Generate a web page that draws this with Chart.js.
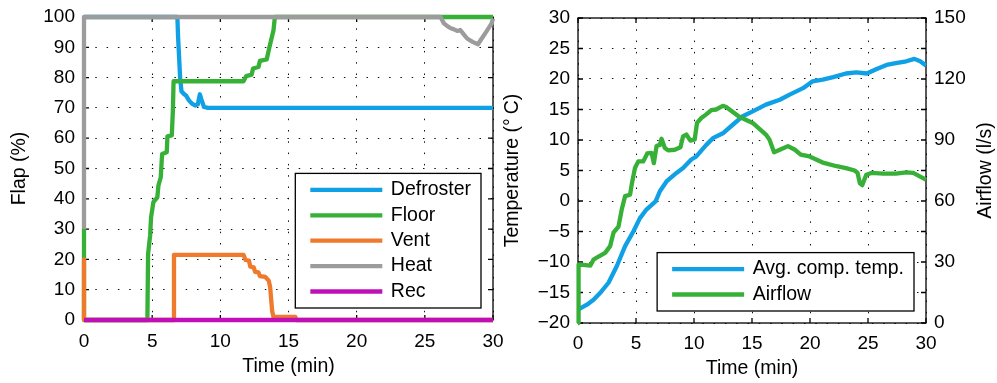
<!DOCTYPE html>
<html>
<head>
<meta charset="utf-8">
<script src="https://cdn.jsdelivr.net/npm/chart.js@4/dist/chart.umd.min.js"></script>
<style>
  html, body { margin: 0; padding: 0; background: #fff; }
  #wrap { position: relative; width: 997px; height: 383px; overflow: hidden; }
  canvas { position: absolute; top: 0; }
  #flap { left: 0; }
  #temp { left: 500px; }
</style>
</head>
<body>
<div id="wrap">
  <canvas id="flap" width="520" height="383"></canvas>
  <canvas id="temp" width="497" height="383"></canvas>
</div>
<script>
// ---------- Flap positions (%) against time (min) ----------
const defrosterTime = [0, 6.85, 6.9, 7.05, 7.15, 7.35, 7.5, 7.7, 7.9, 8.15, 8.35, 8.5, 8.6, 8.8, 9.1, 30];
const defrosterPct  = [100, 100, 93.5, 80, 75.5, 74.5, 74, 72.5, 71.5, 70.8, 71.2, 74.5, 73, 70.3, 70, 70];

const floorTime = [0, 0, 4.65, 4.7, 4.85, 4.92, 5.09, 5.38, 5.46, 5.63, 5.73, 6.07, 6.12, 6.44, 6.52, 6.57,
                   11.7, 11.9, 12.3, 12.4, 12.8, 12.9, 13.4, 13.6, 13.9, 14.0, 30];
const floorPct  = [30, 0, 0, 21.8, 27.9, 33.9, 38.9, 40.5, 44.4, 47.1, 54.8, 55.4, 60.6, 60.9, 69.2, 78.8,
                   78.8, 80.5, 81, 83, 83.5, 85.5, 86, 90, 95.6, 100, 100];

const ventTime = [0, 0, 6.55, 6.6, 11.7, 11.85, 12.1, 12.2, 12.45, 12.55, 12.8, 12.9, 13.3, 13.55, 13.65, 13.8, 13.9, 15.5, 15.6, 30];
const ventPct  = [20, 0, 0, 21.5, 21.5, 19.8, 19.6, 17.6, 17.4, 15.9, 15.7, 14.5, 14.2, 13, 11, 3, 1, 1, 0, 0];

const heatTime = [0, 0, 26.15, 26.4, 26.65, 26.9, 27.1, 27.4, 27.6, 27.9, 28.1, 28.5, 28.9, 29.1, 29.5, 29.9, 30];
const heatPct  = [30, 100, 100, 97.9, 97, 96.3, 96, 95.4, 95.7, 94, 92.9, 91.8, 91, 92.4, 95.1, 97.9, 99.5];

const recTime = [0, 30];
const recPct  = [0, 0];

// ---------- Compartment temperature (°C) and airflow (l/s) ----------
const tempTime = [0, 0.77, 1.34, 1.9, 2.63, 3.34, 4.06, 4.77, 5.34, 5.9, 6.69, 7.06, 7.63, 8.49, 9.06, 9.77,
                  10.2, 11.06, 11.63, 12.49, 13.34, 14.2, 15.06, 16.2, 17.4, 18.2, 19.4, 20.2, 21.1, 22.0,
                  23.1, 24.0, 24.9, 25.7, 26.6, 27.4, 28.3, 29.0, 29.5, 30.0];
const tempDegC = [-17.8, -17.0, -16.2, -15.1, -13.4, -10.7, -7.4, -5.0, -2.8, -1.4, -0.05, 1.6, 3.2, 4.6, 5.4, 6.8,
                  7.3, 9.2, 10.3, 11.1, 12.5, 13.9, 14.7, 15.8, 16.6, 17.4, 18.5, 19.6, 19.9, 20.3,
                  20.9, 21.1, 20.9, 21.6, 22.3, 22.6, 22.9, 23.3, 22.9, 22.2];

const airTime = [0, 0.05, 1.06, 1.34, 1.77, 2.34, 2.77, 3.06, 3.49, 3.77, 4.06, 4.49, 4.63, 4.91, 5.2, 5.63,
                 5.97, 6.34, 6.54, 6.77, 7.06, 7.2, 7.49, 7.77, 8.34, 8.83, 9.06, 9.34, 9.69, 10.06, 10.26,
                 10.63, 11.06, 11.49, 11.9, 12.49, 12.77, 13.9, 15.06, 16.2, 16.5, 16.9, 17.4, 18.1, 18.7,
                 19.2, 19.96, 21.1, 22.3, 23.1, 23.85, 24.1, 24.3, 24.5, 24.85, 25.3, 26.3, 27.4, 28.3,
                 28.9, 29.5, 30.0];
const airLps  = [0, 28.8, 28.2, 31.2, 32.7, 34.5, 37.8, 44.4, 47.4, 55.8, 62.4, 63.1, 68.1, 76.2, 79.5, 79.5,
                 83.4, 83.7, 78.6, 87, 87.6, 90.6, 86.1, 84.9, 85.2, 86.4, 91.8, 92.7, 89.7, 90.3, 98.4,
                 100.8, 102.6, 104.7, 105, 106.8, 106.2, 101.4, 98.4, 92.7, 90.3, 84, 85.2, 87, 85.2,
                 82.8, 81.9, 78.9, 77.1, 76.2, 75, 73.8, 68.7, 67.8, 72.9, 73.8, 73.5, 73.5, 74.1,
                 73.8, 72, 70.5];

// ---------- Tick values ----------
const timeTicks    = [0, 5, 10, 15, 20, 25, 30];
const flapTicks    = [0, 10, 20, 30, 40, 50, 60, 70, 80, 90, 100];
const tempTicks    = [-20, -15, -10, -5, 0, 5, 10, 15, 20, 25, 30];
const airflowTicks = [0, 30, 60, 90, 120, 150];

// ---------- Styling ----------
const FAMILY = '"Liberation Sans", Arial, Helvetica, sans-serif';
const COLORS = {
  blue: '#0fa0e6', green: '#36b036', orange: '#ef7a2c', gray: '#9c9c9c', magenta: '#bf10b8'
};
Chart.defaults.font.family = FAMILY;
Chart.defaults.font.size = 19;
Chart.defaults.color = '#000';

const zip = (xs, ys) => xs.map((x, i) => ({ x, y: ys[i] }));
const fmt = v => (v < 0 ? '\u2212' + Math.abs(v) : String(v));
const setTicks = list => scale => { scale.ticks = list.map(v => ({ value: v })); };

function series(label, xs, ys, color, order, yAxisID) {
  return {
    label, data: zip(xs, ys), borderColor: color, backgroundColor: color,
    borderWidth: 4.3, pointRadius: 0, tension: 0, fill: false, clip: false,
    borderJoinStyle: 'round', order, yAxisID: yAxisID || 'y'
  };
}

const dotGrid = { color: '#111', lineWidth: 1, drawTicks: false };
const dotBorder = { display: false, dash: [1.5, 9.8] };

// Box around the plot area with short inward tick marks on every side
const axisFrame = {
  id: 'axisFrame',
  beforeDatasetsDraw(chart) {
    const { ctx, chartArea: a, scales } = chart;
    const L = 5;
    ctx.save();
    ctx.strokeStyle = '#000';
    ctx.lineWidth = 1.3;
    ctx.beginPath();
    for (const t of scales.x.ticks) {
      const p = scales.x.getPixelForValue(t.value);
      ctx.moveTo(p, a.bottom); ctx.lineTo(p, a.bottom - L);
      ctx.moveTo(p, a.top); ctx.lineTo(p, a.top + L);
    }
    for (const t of scales.y.ticks) {
      const p = scales.y.getPixelForValue(t.value);
      ctx.moveTo(a.left, p); ctx.lineTo(a.left + L, p);
      ctx.moveTo(a.right, p); ctx.lineTo(a.right - L, p);
    }
    ctx.stroke();
    ctx.strokeRect(a.left, a.top, a.right - a.left, a.bottom - a.top);
    ctx.restore();
  }
};

// Framed legend in the lower-right corner of the plot area
const boxLegend = {
  id: 'boxLegend',
  afterDatasetsDraw(chart, args, o) {
    const { ctx, chartArea: a } = chart;
    const ds = chart.data.datasets;
    ctx.save();
    ctx.font = o.fontSize + 'px ' + FAMILY;
    const maxW = Math.max(...ds.map(d => ctx.measureText(d.label).width));
    const w = o.padLeft + o.lineLen + o.gap + maxW + o.padRight;
    const h = 2 * o.padY + (ds.length - 1) * o.rowH;
    const x0 = a.right - o.inset - w;
    const y0 = a.bottom - o.inset - h;
    ctx.fillStyle = '#fff';
    ctx.fillRect(x0, y0, w, h);
    ctx.strokeStyle = '#000';
    ctx.lineWidth = 1.3;
    ctx.strokeRect(x0, y0, w, h);
    ds.forEach((d, i) => {
      const cy = y0 + o.padY + i * o.rowH;
      ctx.strokeStyle = d.borderColor;
      ctx.lineWidth = d.borderWidth;
      ctx.beginPath();
      ctx.moveTo(x0 + o.padLeft, cy);
      ctx.lineTo(x0 + o.padLeft + o.lineLen, cy);
      ctx.stroke();
      ctx.fillStyle = '#000';
      ctx.textBaseline = 'middle';
      ctx.textAlign = 'left';
      ctx.fillText(d.label, x0 + o.padLeft + o.lineLen + o.gap, cy);
    });
    ctx.restore();
  }
};

// Title of the right-hand axis, reading bottom to top
const rightTitle = {
  id: 'rightTitle',
  afterDraw(chart, args, o) {
    const s = chart.scales.y1;
    if (!s) return;
    const { ctx, chartArea: a } = chart;
    ctx.save();
    ctx.font = o.fontSize + 'px ' + FAMILY;
    ctx.fillStyle = '#000';
    ctx.textAlign = 'center';
    ctx.textBaseline = 'middle';
    ctx.translate(s.right - o.offset, (a.top + a.bottom) / 2);
    ctx.rotate(-Math.PI / 2);
    ctx.fillText(o.text, 0, 0);
    ctx.restore();
  }
};

const legendOpts = { fontSize: 19.5, padLeft: 15, lineLen: 72, gap: 8.5, padRight: 10, padY: 16.5, rowH: 25.4, inset: 12 };

// ---------- Left chart: flap positions ----------
new Chart(document.getElementById('flap'), {
  type: 'line',
  data: {
    datasets: [
      series('Defroster', defrosterTime, defrosterPct, COLORS.blue, 4),
      series('Floor', floorTime, floorPct, COLORS.green, 3),
      series('Vent', ventTime, ventPct, COLORS.orange, 2),
      series('Heat', heatTime, heatPct, COLORS.gray, 1),
      series('Rec', recTime, recPct, COLORS.magenta, 0)
    ]
  },
  options: {
    responsive: false, animation: false, devicePixelRatio: 1,
    layout: { padding: { top: 17, right: 27, left: 0, bottom: 0 } },
    plugins: {
      legend: { display: false }, tooltip: { enabled: false },
      boxLegend: legendOpts
    },
    scales: {
      x: {
        type: 'linear', min: 0, max: 30,
        afterBuildTicks: setTicks(timeTicks),
        afterFit: s => { s.height = 63; s.paddingLeft = 0; s.paddingRight = 0; },
        grid: dotGrid, border: dotBorder,
        ticks: { padding: 10, maxRotation: 0, autoSkip: false, callback: fmt },
        title: { display: true, text: 'Time (min)', font: { size: 19.5 }, padding: { top: 0, bottom: 5 } }
      },
      y: {
        type: 'linear', min: 0, max: 100,
        afterBuildTicks: setTicks(flapTicks),
        afterFit: s => { s.width = 84; s.paddingTop = 0; s.paddingBottom = 0; },
        grid: dotGrid, border: dotBorder,
        ticks: { padding: 9, autoSkip: false, callback: fmt },
        title: { display: true, text: 'Flap (%)', font: { size: 19.5 }, padding: { top: 8, bottom: 0 } }
      }
    }
  },
  plugins: [axisFrame, boxLegend]
});

// ---------- Right chart: temperature and airflow ----------
new Chart(document.getElementById('temp'), {
  type: 'line',
  data: {
    datasets: [
      series('Avg. comp. temp.', tempTime, tempDegC, COLORS.blue, 1, 'y'),
      series('Airflow', airTime, airLps, COLORS.green, 0, 'y1')
    ]
  },
  options: {
    responsive: false, animation: false, devicePixelRatio: 1,
    layout: { padding: { top: 18, right: 0, left: 0, bottom: 0 } },
    plugins: {
      legend: { display: false }, tooltip: { enabled: false },
      boxLegend: legendOpts,
      rightTitle: { text: 'Airflow (l/s)', fontSize: 19.5, offset: 11 }
    },
    scales: {
      x: {
        type: 'linear', min: 0, max: 30,
        afterBuildTicks: setTicks(timeTicks),
        afterFit: s => { s.height = 60; s.paddingLeft = 0; s.paddingRight = 0; },
        grid: dotGrid, border: dotBorder,
        ticks: { padding: 9, maxRotation: 0, autoSkip: false, callback: fmt },
        title: { display: true, text: 'Time (min)', font: { size: 19.5 }, padding: { top: 0, bottom: 3 } }
      },
      y: {
        type: 'linear', position: 'left', min: -20, max: 30,
        afterBuildTicks: setTicks(tempTicks),
        afterFit: s => { s.width = 78; s.paddingTop = 0; s.paddingBottom = 0; },
        grid: dotGrid, border: dotBorder,
        ticks: { padding: 8, autoSkip: false, callback: fmt },
        title: { display: true, text: 'Temperature (°\u2009C)', font: { size: 19.5 }, padding: { top: 0.5, bottom: 0 } }
      },
      y1: {
        type: 'linear', position: 'right', min: 0, max: 150,
        afterBuildTicks: setTicks(airflowTicks),
        afterFit: s => { s.width = 71; s.paddingTop = 0; s.paddingBottom = 0; },
        grid: { display: false, drawTicks: false }, border: { display: false },
        ticks: { padding: 8, autoSkip: false, callback: fmt }
      }
    }
  },
  plugins: [axisFrame, boxLegend, rightTitle]
});
</script>
</body>
</html>
